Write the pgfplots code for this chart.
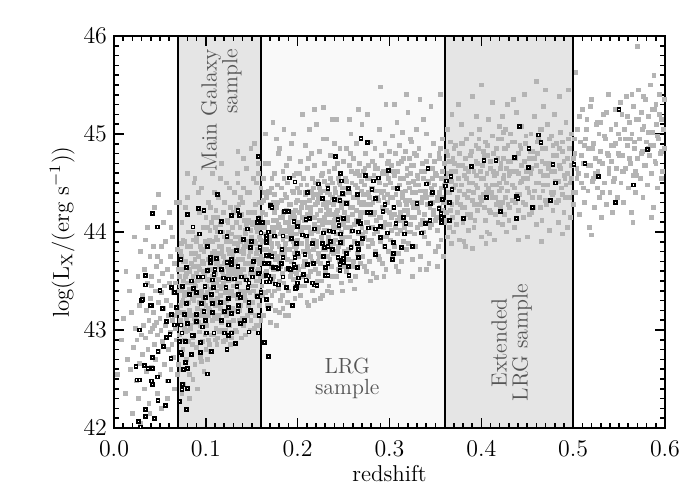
\documentclass[border=0pt]{standalone}
\usepackage{pgfplots}
\pgfplotsset{compat=1.18}

\definecolor{bandgray}{RGB}{229,229,229}
\definecolor{lrgband}{RGB}{249,249,249}
\definecolor{ptgray}{RGB}{180,180,180}
\definecolor{textgray}{RGB}{85,85,85}

\begin{document}
\begin{tikzpicture}
\path[use as bounding box] (-57bp,-36bp) rectangle (293bp,214bp);
\begin{axis}[
    at={(0,0)}, anchor=south west,
    scale only axis, width=275.5bp, height=196bp,
    xmin=0, xmax=0.6, ymin=42, ymax=46,
    axis on top,
    axis line style={line width=1bp},
    tick style={line width=0.8bp, black},
    tick align=inside,
    major tick length=5bp, minor tick length=2.5bp,
    xtick={0,0.1,...,0.6}, ytick={42,43,44,45,46},
    minor x tick num=9, minor y tick num=9,
    xticklabel style={yshift=-3bp, /pgf/number format/.cd, fixed, fixed zerofill, precision=1},
    tick label style={font=\fontsize{12}{14}\selectfont},
    label style={font=\fontsize{11.5}{14}\selectfont},
    xlabel={redshift},
    ylabel={log(L$_{\mathrm{X}}$/(erg s$^{-1}$))},
    xlabel style={at={(axis description cs:0.5,-0.115)}, anchor=center},
    ylabel style={at={(axis description cs:-0.094,0.5)}, anchor=center},
  ]
  % sample bands
  \fill[bandgray] (axis cs:0.07,42) rectangle (axis cs:0.16,46);
  \fill[lrgband] (axis cs:0.16,42) rectangle (axis cs:0.36,46);
  \fill[bandgray] (axis cs:0.36,42) rectangle (axis cs:0.5,46);

  % all sources
  \addplot[only marks, mark=square*, mark size=0.95bp, color=ptgray, mark options={draw=none}] coordinates {
  (0.004,42.55) (0.008,42.90) (0.010,43.12) (0.012,42.35) (0.015,42.70) (0.017,43.40) (0.019,43.18) (0.020,42.15) (0.021,42.82) (0.023,43.02) (0.024,42.48) (0.025,42.90) (0.026,43.55) (0.027,42.30) (0.028,42.66) (0.028,43.25) (0.029,42.05) (0.029,43.80) (0.030,42.95) (0.018,42.60) (0.013,43.60) (0.022,43.95)
  (0.031,43.35) (0.031,42.75) (0.032,43.05) (0.033,42.40) (0.033,43.62) (0.034,42.92) (0.035,43.20) (0.035,42.58) (0.036,44.05) (0.036,43.48) (0.037,42.80) (0.038,43.10) (0.038,42.25) (0.039,43.75) (0.040,42.98) (0.040,43.32) (0.041,42.62) (0.041,43.55) (0.042,43.02) (0.042,42.45) (0.043,43.85) (0.043,43.18) (0.044,42.85) (0.044,44.25) (0.045,43.40) (0.045,42.70) (0.046,43.08) (0.046,43.65) (0.047,42.35) (0.047,42.95) (0.048,43.28) (0.048,44.38) (0.049,43.50) (0.049,42.78) (0.050,43.12) (0.050,42.55) (0.051,43.70) (0.051,43.00) (0.052,43.38) (0.052,42.20) (0.053,42.88) (0.053,43.58) (0.054,43.22) (0.054,44.10) (0.055,42.65) (0.055,43.45) (0.056,43.05) (0.056,43.90) (0.057,42.92) (0.057,43.30) (0.058,42.48) (0.058,43.62) (0.059,43.15) (0.059,42.80) (0.060,43.48) (0.060,44.20) (0.061,42.98) (0.061,43.75) (0.062,42.60) (0.062,43.25) (0.063,43.55) (0.063,42.85) (0.064,43.10) (0.064,43.95) (0.065,42.72) (0.065,43.38) (0.066,43.68) (0.066,42.40) (0.067,43.02) (0.067,43.48) (0.068,44.30) (0.068,42.90) (0.069,43.20) (0.069,43.82) (0.070,42.65) (0.070,43.40) (0.034,43.92) (0.039,42.15) (0.044,43.05) (0.052,43.85) (0.058,42.30) (0.062,44.05) (0.066,43.15) (0.069,42.55) (0.041,43.45) (0.047,43.75)
  (0.071,43.55) (0.071,42.95) (0.072,43.25) (0.072,43.80) (0.073,42.60) (0.073,43.40) (0.074,43.05) (0.074,44.10) (0.075,42.80) (0.075,43.62) (0.076,43.18) (0.076,42.45) (0.077,43.90) (0.077,43.35) (0.078,42.98) (0.078,43.70) (0.079,43.12) (0.079,42.70) (0.080,43.48) (0.080,44.35) (0.081,42.88) (0.081,43.28) (0.082,43.60) (0.082,42.55) (0.083,43.02) (0.083,43.85) (0.084,43.40) (0.084,42.75) (0.085,44.00) (0.085,43.15) (0.086,42.92) (0.086,43.55) (0.087,43.30) (0.087,44.50) (0.088,42.65) (0.088,43.72) (0.089,43.08) (0.089,43.45) (0.090,42.82) (0.090,43.95) (0.091,43.22) (0.091,42.40) (0.092,43.65) (0.092,43.38) (0.093,42.98) (0.093,44.20) (0.094,43.52) (0.094,42.72) (0.095,43.15) (0.095,43.82) (0.096,43.35) (0.096,42.88) (0.097,44.05) (0.097,43.60) (0.098,43.05) (0.098,42.58) (0.099,43.45) (0.099,43.90) (0.100,43.25) (0.100,42.80) (0.072,43.10) (0.074,42.35) (0.076,43.50) (0.078,44.25) (0.080,43.00) (0.082,43.20) (0.084,43.68) (0.086,42.50) (0.088,43.35) (0.090,43.58) (0.092,44.40) (0.094,43.05) (0.096,43.70) (0.098,43.28) (0.100,44.15) (0.073,43.75) (0.075,43.30) (0.077,42.90) (0.079,43.58) (0.081,44.00) (0.083,43.48) (0.085,42.85) (0.087,43.12) (0.089,43.78) (0.091,43.50) (0.093,43.62) (0.095,42.68) (0.097,43.30) (0.099,42.95) (0.071,44.30) (0.080,44.60) (0.088,44.55) (0.095,44.45) (0.082,42.30) (0.090,43.10) (0.098,43.80) (0.075,43.92) (0.086,43.92) (0.093,43.28)
  (0.0705,43.62) (0.0715,43.18) (0.0725,43.45) (0.0735,43.88) (0.0745,43.28) (0.0755,43.70) (0.0765,43.02) (0.0775,43.55) (0.0785,43.38) (0.0795,43.85) (0.0805,43.15) (0.0815,43.62) (0.0825,43.42) (0.0835,43.05) (0.0845,43.78) (0.0855,43.32) (0.0865,43.65) (0.0875,43.48) (0.0885,43.12) (0.0895,43.90) (0.0905,43.35) (0.0915,43.75) (0.0925,43.08) (0.0935,43.52) (0.0945,43.85) (0.0955,43.40) (0.0965,43.20) (0.0975,43.68) (0.0985,43.55) (0.0995,43.15)
  (0.101,43.60) (0.101,43.05) (0.102,43.38) (0.102,44.05) (0.103,42.90) (0.103,43.72) (0.104,43.20) (0.104,43.50) (0.105,44.25) (0.105,42.78) (0.106,43.62) (0.106,43.30) (0.107,43.90) (0.107,43.10) (0.108,43.48) (0.108,42.95) (0.109,43.80) (0.109,44.40) (0.110,43.25) (0.110,43.58) (0.111,43.02) (0.111,43.95) (0.112,43.40) (0.112,42.85) (0.113,43.70) (0.113,44.15) (0.114,43.15) (0.114,43.52) (0.115,42.98) (0.115,43.85) (0.116,43.35) (0.116,44.55) (0.117,43.62) (0.117,43.08) (0.118,44.00) (0.118,43.45) (0.119,42.88) (0.119,43.75) (0.120,43.28) (0.120,44.30) (0.121,43.55) (0.121,43.00) (0.122,43.90) (0.122,43.40) (0.123,42.80) (0.123,43.65) (0.124,44.10) (0.124,43.18) (0.125,43.50) (0.125,43.82) (0.126,43.05) (0.126,44.45) (0.127,43.35) (0.127,43.70) (0.128,42.92) (0.128,43.98) (0.129,43.58) (0.129,43.22) (0.130,44.20) (0.130,43.45) (0.101,43.85) (0.102,42.70) (0.103,44.30) (0.104,43.92) (0.105,43.42) (0.106,42.95) (0.107,44.60) (0.108,43.75) (0.109,43.15) (0.110,44.05) (0.111,43.68) (0.112,43.12) (0.113,42.92) (0.114,44.35) (0.115,43.45) (0.116,43.00) (0.117,43.85) (0.118,43.28) (0.119,44.20) (0.120,43.68) (0.121,42.90) (0.122,44.50) (0.123,43.30) (0.124,43.60) (0.125,43.08) (0.126,43.78) (0.127,44.25) (0.128,43.40) (0.129,42.98) (0.130,43.80) (0.102,43.52) (0.104,42.85) (0.106,44.10) (0.108,43.30) (0.110,42.90) (0.112,44.00) (0.114,43.78) (0.116,43.22) (0.118,43.60) (0.120,43.00) (0.122,43.15) (0.124,43.95) (0.126,43.55) (0.128,43.62) (0.130,43.10) (0.105,43.68) (0.111,44.22) (0.117,44.70) (0.121,43.38) (0.127,42.85) (0.113,43.32) (0.119,43.48) (0.125,44.00) (0.103,43.15) (0.109,43.55)
  (0.131,43.70) (0.131,43.20) (0.132,43.95) (0.132,43.45) (0.133,42.98) (0.133,44.25) (0.134,43.60) (0.134,43.32) (0.135,43.85) (0.135,44.50) (0.136,43.10) (0.136,43.72) (0.137,43.48) (0.137,44.05) (0.138,43.25) (0.138,43.90) (0.139,42.92) (0.139,43.62) (0.140,44.30) (0.140,43.40) (0.141,43.78) (0.141,43.05) (0.142,44.12) (0.142,43.55) (0.143,43.30) (0.143,43.98) (0.144,44.65) (0.144,43.68) (0.145,43.15) (0.145,43.85) (0.146,43.50) (0.146,44.20) (0.147,42.98) (0.147,43.75) (0.148,43.38) (0.148,44.40) (0.149,43.62) (0.149,43.10) (0.150,43.92) (0.150,43.45) (0.151,44.08) (0.151,43.28) (0.152,43.70) (0.152,44.55) (0.153,43.02) (0.153,43.58) (0.154,43.88) (0.154,44.28) (0.155,43.35) (0.155,43.78) (0.156,43.15) (0.156,44.00) (0.157,43.50) (0.157,44.70) (0.158,43.68) (0.158,43.25) (0.159,44.15) (0.159,43.85) (0.160,43.40) (0.160,44.45) (0.131,44.40) (0.132,43.00) (0.133,43.55) (0.134,44.60) (0.135,43.35) (0.136,43.95) (0.137,43.20) (0.138,44.35) (0.139,43.80) (0.140,43.12) (0.141,44.45) (0.142,43.85) (0.143,42.95) (0.144,43.40) (0.145,44.40) (0.146,43.25) (0.147,44.10) (0.148,43.58) (0.149,44.02) (0.150,43.18) (0.151,43.65) (0.152,43.40) (0.153,44.20) (0.154,43.45) (0.155,44.50) (0.156,43.72) (0.157,43.05) (0.158,43.95) (0.159,43.55) (0.160,43.10) (0.132,43.68) (0.134,43.88) (0.136,44.28) (0.138,43.60) (0.140,43.72) (0.142,43.35) (0.144,44.08) (0.146,43.90) (0.148,43.00) (0.150,43.68) (0.152,44.10) (0.154,43.15) (0.156,43.60) (0.158,44.30) (0.160,43.75) (0.135,44.82) (0.141,44.75) (0.149,44.85) (0.153,44.90) (0.157,44.60) (0.137,43.40) (0.143,43.68) (0.147,43.50) (0.151,43.88) (0.155,43.05)
  (0.1005,43.45) (0.1015,43.88) (0.1025,43.22) (0.1035,43.62) (0.1045,44.02) (0.1055,43.35) (0.1065,43.78) (0.1075,43.55) (0.1085,44.15) (0.1095,43.30) (0.1105,43.72) (0.1115,43.48) (0.1125,43.92) (0.1135,43.25) (0.1145,43.65) (0.1155,44.08) (0.1165,43.42) (0.1175,43.80) (0.1185,43.58) (0.1195,43.18) (0.1205,43.95) (0.1215,43.70) (0.1225,43.50) (0.1235,44.12) (0.1245,43.38) (0.1255,43.68) (0.1265,43.90) (0.1275,43.52) (0.1285,44.05) (0.1295,43.75) (0.1305,43.35) (0.1315,43.88) (0.1325,43.62) (0.1335,44.10) (0.1345,43.48) (0.1355,43.72) (0.1365,43.95) (0.1375,43.58) (0.1385,44.18) (0.1395,43.40) (0.1405,43.82) (0.1415,43.62) (0.1425,44.02) (0.1435,43.52) (0.1445,43.90) (0.1455,43.68) (0.1465,44.12) (0.1475,43.45) (0.1485,43.80) (0.1495,43.95) (0.1505,43.58) (0.1515,44.20) (0.1525,43.72) (0.1535,43.90) (0.1545,43.50) (0.1555,44.05) (0.1565,43.82) (0.1575,43.62) (0.1585,44.10) (0.1595,43.92)
  (0.161,43.90) (0.161,43.45) (0.162,44.20) (0.162,43.70) (0.163,43.15) (0.163,44.55) (0.164,43.82) (0.164,44.05) (0.165,43.38) (0.165,43.98) (0.166,44.35) (0.166,43.60) (0.167,43.25) (0.167,44.10) (0.168,43.75) (0.168,44.70) (0.169,43.50) (0.169,43.92) (0.170,44.28) (0.170,43.08) (0.171,43.65) (0.171,44.45) (0.172,43.85) (0.172,43.35) (0.173,44.12) (0.173,45.12) (0.174,43.55) (0.174,44.00) (0.175,43.78) (0.175,44.60) (0.176,43.20) (0.176,43.95) (0.177,44.25) (0.177,43.62) (0.178,43.88) (0.178,44.48) (0.179,43.42) (0.179,44.08) (0.180,43.70) (0.180,44.85) (0.181,43.98) (0.181,43.30) (0.182,44.32) (0.182,43.80) (0.183,43.58) (0.183,44.15) (0.184,43.92) (0.184,44.62) (0.185,43.48) (0.185,44.02) (0.186,43.75) (0.186,44.38) (0.187,43.15) (0.187,43.88) (0.188,44.22) (0.188,43.62) (0.189,44.50) (0.189,43.95) (0.190,43.40) (0.190,44.10) (0.191,43.82) (0.191,44.75) (0.192,43.55) (0.192,44.28) (0.193,44.00) (0.193,43.70) (0.194,44.42) (0.194,43.25) (0.195,43.90) (0.195,44.18) (0.196,43.65) (0.196,44.58) (0.197,43.98) (0.197,43.45) (0.198,44.30) (0.198,43.80) (0.199,44.08) (0.199,43.58) (0.200,44.45) (0.200,43.92) (0.161,44.30) (0.163,43.55) (0.165,44.70) (0.167,43.90) (0.169,44.40) (0.171,43.95) (0.173,43.50) (0.175,44.20) (0.177,43.05) (0.179,44.80) (0.181,44.15) (0.183,43.35) (0.185,44.55) (0.187,44.00) (0.189,43.28) (0.191,44.05) (0.193,44.90) (0.195,43.52) (0.197,44.15) (0.199,43.85) (0.162,43.35) (0.164,44.40) (0.166,43.95) (0.168,43.40) (0.170,43.80) (0.172,44.55) (0.174,44.30) (0.176,43.72) (0.178,44.05) (0.180,43.50) (0.182,44.00) (0.184,43.22) (0.186,43.85) (0.188,44.68) (0.190,43.62) (0.192,43.98) (0.194,44.20) (0.196,43.78) (0.198,44.60) (0.200,43.65) (0.165,45.00) (0.177,44.95) (0.185,45.05) (0.195,45.00) (0.170,43.25) (0.180,43.18) (0.190,43.15) (0.175,43.40) (0.183,43.78) (0.197,43.32)
  (0.201,44.10) (0.201,43.62) (0.202,44.40) (0.202,43.88) (0.203,43.35) (0.203,44.72) (0.204,44.00) (0.204,44.25) (0.205,43.55) (0.205,44.15) (0.206,44.55) (0.206,43.80) (0.207,43.45) (0.207,44.30) (0.208,43.95) (0.208,44.88) (0.209,43.70) (0.209,44.12) (0.210,44.48) (0.210,43.28) (0.211,43.85) (0.211,44.65) (0.212,44.05) (0.212,43.55) (0.213,44.32) (0.213,45.05) (0.214,43.75) (0.214,44.20) (0.215,43.98) (0.215,44.80) (0.216,43.40) (0.216,44.15) (0.217,44.45) (0.217,43.82) (0.218,44.08) (0.218,44.68) (0.219,43.62) (0.219,44.28) (0.220,43.90) (0.220,45.10) (0.221,44.18) (0.221,43.50) (0.222,44.52) (0.222,44.00) (0.223,43.78) (0.223,44.35) (0.224,44.12) (0.224,44.82) (0.225,43.68) (0.225,44.22) (0.226,43.95) (0.226,44.58) (0.227,43.35) (0.227,44.08) (0.228,44.42) (0.228,43.82) (0.229,44.70) (0.229,44.15) (0.230,43.60) (0.230,44.30) (0.231,44.02) (0.231,44.95) (0.232,43.75) (0.232,44.48) (0.233,44.20) (0.233,43.90) (0.234,44.62) (0.234,43.45) (0.235,44.10) (0.235,44.38) (0.236,43.85) (0.236,44.78) (0.237,44.18) (0.237,43.65) (0.238,44.50) (0.238,44.00) (0.239,44.28) (0.239,43.78) (0.240,44.65) (0.240,44.12) (0.241,43.92) (0.241,44.40) (0.242,43.55) (0.242,45.15) (0.243,44.22) (0.243,43.80) (0.244,44.55) (0.244,44.05) (0.245,43.70) (0.245,44.35) (0.246,44.85) (0.246,44.15) (0.247,43.95) (0.247,44.60) (0.248,43.48) (0.248,44.25) (0.249,44.45) (0.249,43.88) (0.250,44.10) (0.250,44.72) (0.202,44.60) (0.204,43.45) (0.206,44.05) (0.208,44.40) (0.210,43.90) (0.212,44.75) (0.214,43.60) (0.216,44.55) (0.218,43.30) (0.220,44.38) (0.222,43.70) (0.224,44.45) (0.226,43.50) (0.228,44.95) (0.230,44.10) (0.232,43.40) (0.234,44.30) (0.236,44.00) (0.238,43.55) (0.240,44.90) (0.242,44.20) (0.244,43.62) (0.246,44.48) (0.248,44.00) (0.250,43.65) (0.203,44.05) (0.207,43.70) (0.211,44.25) (0.215,44.40) (0.219,44.02) (0.223,43.58) (0.227,44.60) (0.231,44.25) (0.235,43.72) (0.239,44.05) (0.243,44.70) (0.247,44.30) (0.205,45.20) (0.218,45.25) (0.228,45.27) (0.238,45.15) (0.212,43.25) (0.225,43.32) (0.237,43.38) (0.249,43.40)
  (0.1605,44.05) (0.1615,43.72) (0.1625,44.32) (0.1635,43.90) (0.1645,43.58) (0.1655,44.18) (0.1665,43.82) (0.1675,44.42) (0.1685,44.00) (0.1695,43.68) (0.1705,44.25) (0.1715,43.88) (0.1725,44.05) (0.1735,43.62) (0.1745,44.38) (0.1755,43.95) (0.1765,44.12) (0.1775,43.75) (0.1785,44.30) (0.1795,43.85) (0.1805,44.05) (0.1815,43.65) (0.1825,44.45) (0.1835,43.98) (0.1845,44.20) (0.1855,43.80) (0.1865,44.10) (0.1875,44.35) (0.1885,43.72) (0.1895,44.02) (0.1905,44.28) (0.1915,43.92) (0.1925,44.15) (0.1935,43.60) (0.1945,44.05) (0.1955,44.40) (0.1965,43.85) (0.1975,44.22) (0.1985,43.98) (0.1995,44.32) (0.2005,43.75) (0.2015,44.20) (0.2025,44.02) (0.2035,44.48) (0.2045,43.88) (0.2055,44.30) (0.2065,43.65) (0.2075,44.12) (0.2085,44.38) (0.2095,43.95) (0.2105,44.18) (0.2115,43.80) (0.2125,44.42) (0.2135,44.00) (0.2145,44.25) (0.2155,43.70) (0.2165,44.35) (0.2175,43.92) (0.2185,44.15) (0.2195,44.50) (0.2205,43.85) (0.2215,44.30) (0.2225,44.05) (0.2235,43.75) (0.2245,44.40) (0.2255,44.12) (0.2265,43.90) (0.2275,44.28) (0.2285,44.02) (0.2295,44.52) (0.2305,43.82) (0.2315,44.18) (0.2325,44.40) (0.2335,43.95) (0.2345,44.22) (0.2355,44.55) (0.2365,43.80) (0.2375,44.35) (0.2385,44.10) (0.2395,43.88) (0.2405,44.45) (0.2415,44.15) (0.2425,43.98) (0.2435,44.32) (0.2445,43.85) (0.2455,44.50) (0.2465,44.08) (0.2475,44.25) (0.2485,43.92) (0.2495,44.38)
  (0.251,44.20) (0.251,43.80) (0.252,44.55) (0.252,44.05) (0.253,43.60) (0.253,44.85) (0.254,44.30) (0.254,44.12) (0.255,43.72) (0.255,44.40) (0.256,44.68) (0.256,43.95) (0.257,43.50) (0.257,44.25) (0.258,44.00) (0.258,45.00) (0.259,43.85) (0.259,44.50) (0.260,44.18) (0.260,43.65) (0.261,44.75) (0.261,44.35) (0.262,43.90) (0.262,44.08) (0.263,44.60) (0.263,43.55) (0.264,44.22) (0.264,44.90) (0.265,43.78) (0.265,44.45) (0.266,44.10) (0.266,43.98) (0.267,44.70) (0.267,44.30) (0.268,43.68) (0.268,44.15) (0.269,44.52) (0.269,43.88) (0.270,44.05) (0.270,45.10) (0.271,44.38) (0.271,43.75) (0.272,44.62) (0.272,44.20) (0.273,43.95) (0.273,44.48) (0.274,44.00) (0.274,44.80) (0.275,43.60) (0.275,44.28) (0.276,44.55) (0.276,44.10) (0.277,43.85) (0.277,44.68) (0.278,44.35) (0.278,43.70) (0.279,44.92) (0.279,44.18) (0.280,43.92) (0.280,44.45) (0.281,44.05) (0.281,44.72) (0.282,43.58) (0.282,44.30) (0.283,44.58) (0.283,43.98) (0.284,44.20) (0.284,44.85) (0.285,43.80) (0.285,44.42) (0.286,43.54) (0.286,44.12) (0.287,44.65) (0.287,44.00) (0.288,44.32) (0.288,43.75) (0.289,44.50) (0.289,45.05) (0.290,44.15) (0.290,43.90) (0.291,44.40) (0.291,44.78) (0.292,43.68) (0.292,44.25) (0.293,44.05) (0.293,44.62) (0.294,43.85) (0.294,44.35) (0.295,44.90) (0.295,44.10) (0.296,43.62) (0.296,44.48) (0.297,44.22) (0.297,43.95) (0.298,44.70) (0.298,44.30) (0.299,43.80) (0.299,44.55) (0.300,44.08) (0.300,44.82) (0.253,44.45) (0.257,44.80) (0.261,43.70) (0.265,44.62) (0.269,44.28) (0.273,43.65) (0.277,44.40) (0.281,43.88) (0.285,44.65) (0.289,43.72) (0.293,44.42) (0.297,44.60) (0.256,45.15) (0.266,45.25) (0.276,45.20) (0.290,45.48) (0.296,45.30) (0.262,43.42) (0.279,43.50) (0.294,43.55)
  (0.301,44.35) (0.301,43.92) (0.302,44.68) (0.302,44.15) (0.303,43.75) (0.303,44.98) (0.304,44.45) (0.304,44.25) (0.305,43.85) (0.305,44.58) (0.306,44.80) (0.306,44.05) (0.307,43.65) (0.307,44.38) (0.308,44.12) (0.308,45.12) (0.309,43.98) (0.309,44.62) (0.310,44.30) (0.310,43.78) (0.311,44.88) (0.311,44.48) (0.312,44.02) (0.312,44.20) (0.313,44.72) (0.313,43.70) (0.314,44.35) (0.314,45.02) (0.315,43.90) (0.315,44.55) (0.316,44.22) (0.316,44.10) (0.317,44.82) (0.317,44.42) (0.318,43.82) (0.318,44.28) (0.319,44.65) (0.319,44.00) (0.320,44.18) (0.320,45.22) (0.321,44.50) (0.321,43.88) (0.322,44.75) (0.322,44.32) (0.323,44.08) (0.323,44.60) (0.324,44.15) (0.324,44.92) (0.325,43.72) (0.325,44.40) (0.326,44.68) (0.326,44.25) (0.327,43.98) (0.327,44.80) (0.328,44.48) (0.328,43.85) (0.329,45.05) (0.329,44.30) (0.330,44.05) (0.330,44.58) (0.332,44.20) (0.332,44.85) (0.334,43.75) (0.334,44.42) (0.336,44.70) (0.336,44.12) (0.338,43.95) (0.338,44.62) (0.340,44.35) (0.340,45.00) (0.342,43.88) (0.342,44.52) (0.344,44.25) (0.344,44.78) (0.346,44.08) (0.346,44.45) (0.348,44.90) (0.348,44.18) (0.350,43.80) (0.350,44.60) (0.352,44.32) (0.352,44.02) (0.354,44.75) (0.354,44.40) (0.356,43.92) (0.356,44.55) (0.358,44.22) (0.358,44.95) (0.360,44.10) (0.360,44.48) (0.331,44.55) (0.333,43.62) (0.335,44.30) (0.337,45.15) (0.339,44.40) (0.341,44.10) (0.343,43.68) (0.345,44.65) (0.347,44.30) (0.349,44.72) (0.351,44.15) (0.353,43.85) (0.355,44.85) (0.357,44.35) (0.359,43.75) (0.305,45.30) (0.318,45.40) (0.333,45.35) (0.345,45.28) (0.355,45.40) (0.310,43.60) (0.325,43.55) (0.340,43.62) (0.352,43.65) (0.337,44.00) (0.347,44.55) (0.357,44.15) (0.323,44.95) (0.311,44.15)
  (0.2505,44.30) (0.2517,43.95) (0.2529,44.52) (0.2541,44.15) (0.2553,43.82) (0.2565,44.40) (0.2577,44.05) (0.2589,44.62) (0.2601,44.25) (0.2613,43.90) (0.2625,44.48) (0.2637,44.12) (0.2649,44.35) (0.2661,43.85) (0.2673,44.58) (0.2685,44.20) (0.2697,44.42) (0.2709,43.98) (0.2721,44.30) (0.2733,44.65) (0.2745,44.10) (0.2757,44.38) (0.2769,43.92) (0.2781,44.55) (0.2793,44.28) (0.2805,44.05) (0.2817,44.45) (0.2829,44.18) (0.2841,44.68) (0.2853,44.00) (0.2865,44.35) (0.2877,44.55) (0.2889,44.15) (0.2901,44.42) (0.2913,43.95) (0.2925,44.60) (0.2937,44.25) (0.2949,44.48) (0.2961,44.08) (0.2973,44.38) (0.2985,44.72) (0.2997,44.20) (0.3009,44.50) (0.3021,44.02) (0.3033,44.35) (0.3045,44.62) (0.3057,44.18) (0.3069,44.45) (0.3081,43.98) (0.3093,44.70) (0.3105,44.28) (0.3117,44.55) (0.3129,44.12) (0.3141,44.40) (0.3153,44.75) (0.3165,44.05) (0.3177,44.32) (0.3189,44.58) (0.3201,44.22) (0.3213,44.45) (0.3225,44.00) (0.3237,44.68) (0.3249,44.30) (0.3261,44.52) (0.3273,44.15) (0.3285,44.40) (0.3297,44.78) (0.3309,44.25) (0.3321,44.48) (0.3333,44.08) (0.3345,44.62) (0.3357,44.35) (0.3369,44.55) (0.3381,44.18) (0.3393,44.42) (0.3405,44.72) (0.3417,44.28) (0.3429,44.50) (0.3441,44.05) (0.3453,44.38) (0.3465,44.65) (0.3477,44.22) (0.3489,44.48) (0.3501,44.12) (0.3513,44.58) (0.3525,44.35) (0.3537,44.80) (0.3549,44.25) (0.3561,44.45) (0.3573,44.62) (0.3585,44.30) (0.3597,44.70)
  (0.361,44.50) (0.361,44.12) (0.362,44.82) (0.362,44.30) (0.363,43.95) (0.363,45.05) (0.364,44.60) (0.364,44.40) (0.365,44.05) (0.365,44.72) (0.366,44.92) (0.366,44.22) (0.367,43.88) (0.367,44.52) (0.368,44.28) (0.368,45.20) (0.369,44.15) (0.369,44.75) (0.370,44.45) (0.370,44.00) (0.372,44.88) (0.372,44.62) (0.374,44.20) (0.374,44.35) (0.376,44.80) (0.376,43.92) (0.378,44.48) (0.378,45.10) (0.380,44.10) (0.380,44.68) (0.382,44.38) (0.382,44.25) (0.384,44.95) (0.384,44.55) (0.386,44.02) (0.386,44.42) (0.388,44.78) (0.388,44.15) (0.390,44.32) (0.390,43.83) (0.392,44.62) (0.392,44.05) (0.394,44.88) (0.394,44.48) (0.396,44.22) (0.396,44.70) (0.398,44.28) (0.398,45.05) (0.400,43.95) (0.400,44.55) (0.402,44.82) (0.402,44.38) (0.404,44.12) (0.404,44.92) (0.406,44.60) (0.406,44.00) (0.408,45.15) (0.408,44.45) (0.410,44.20) (0.410,44.72) (0.412,44.35) (0.412,44.98) (0.414,43.92) (0.414,44.58) (0.416,44.85) (0.416,44.28) (0.418,44.10) (0.418,44.75) (0.420,44.50) (0.420,45.08) (0.371,44.70) (0.373,44.08) (0.375,44.55) (0.377,44.28) (0.379,44.90) (0.381,43.90) (0.383,44.65) (0.385,44.18) (0.387,44.50) (0.389,45.00) (0.391,44.40) (0.393,44.12) (0.395,44.58) (0.397,44.85) (0.399,44.35) (0.401,44.68) (0.403,44.25) (0.405,44.48) (0.407,44.78) (0.409,43.98) (0.411,44.40) (0.413,44.62) (0.415,44.18) (0.417,44.48) (0.419,44.30) (0.375,45.30) (0.390,45.38) (0.400,45.50) (0.412,45.32) (0.383,43.85) (0.405,43.88) (0.395,45.18)
  (0.421,44.65) (0.421,44.25) (0.422,44.95) (0.422,44.45) (0.423,44.08) (0.423,45.18) (0.424,44.75) (0.424,44.55) (0.425,44.18) (0.425,44.85) (0.426,45.05) (0.426,44.35) (0.427,44.00) (0.427,44.65) (0.428,44.42) (0.428,45.30) (0.429,44.28) (0.429,44.88) (0.430,44.58) (0.430,44.12) (0.432,45.00) (0.432,44.72) (0.434,44.32) (0.434,44.48) (0.436,44.92) (0.436,44.05) (0.438,44.62) (0.438,45.22) (0.440,44.22) (0.440,44.80) (0.442,44.50) (0.442,44.38) (0.444,45.08) (0.444,44.68) (0.446,44.15) (0.446,44.55) (0.448,44.90) (0.448,44.28) (0.450,44.45) (0.450,43.95) (0.452,44.75) (0.452,44.18) (0.454,45.00) (0.454,44.60) (0.456,44.35) (0.456,44.82) (0.458,44.42) (0.458,45.18) (0.460,44.08) (0.460,44.68) (0.462,44.95) (0.462,44.50) (0.464,44.25) (0.464,45.05) (0.466,44.72) (0.466,44.12) (0.468,45.28) (0.468,44.58) (0.470,44.32) (0.470,44.85) (0.472,44.48) (0.472,45.10) (0.474,44.02) (0.474,44.70) (0.476,44.98) (0.476,44.40) (0.478,44.22) (0.478,44.88) (0.480,44.62) (0.480,45.20) (0.482,44.30) (0.482,44.78) (0.484,44.52) (0.484,44.10) (0.486,45.02) (0.486,44.65) (0.488,44.38) (0.488,44.92) (0.490,44.20) (0.490,44.72) (0.492,44.48) (0.492,45.12) (0.494,44.05) (0.494,44.60) (0.496,44.85) (0.496,44.35) (0.498,44.55) (0.498,45.00) (0.500,44.28) (0.500,44.75) (0.431,44.60) (0.437,44.30) (0.443,44.85) (0.449,44.62) (0.455,44.20) (0.461,44.80) (0.467,44.42) (0.473,44.65) (0.479,44.40) (0.485,44.85) (0.491,44.55) (0.497,44.15) (0.435,45.35) (0.447,45.40) (0.460,45.54) (0.470,45.45) (0.485,45.38) (0.495,45.45) (0.440,43.92) (0.465,43.90) (0.488,43.98)
  (0.3605,44.55) (0.3621,44.20) (0.3637,44.78) (0.3653,44.40) (0.3669,44.62) (0.3685,44.15) (0.3701,44.85) (0.3717,44.48) (0.3733,44.30) (0.3749,44.68) (0.3765,44.42) (0.3781,44.90) (0.3797,44.25) (0.3813,44.58) (0.3829,44.75) (0.3845,44.35) (0.3861,44.62) (0.3877,44.18) (0.3893,44.82) (0.3909,44.50) (0.3925,44.28) (0.3941,44.72) (0.3957,44.45) (0.3973,44.95) (0.3989,44.62) (0.4005,44.32) (0.4021,44.55) (0.4037,44.78) (0.4053,44.40) (0.4069,44.88) (0.4085,44.22) (0.4101,44.65) (0.4117,44.48) (0.4133,44.80) (0.4149,44.35) (0.4165,44.60) (0.4181,44.95) (0.4197,44.42) (0.4213,44.70) (0.4229,44.30) (0.4245,44.58) (0.4261,44.85) (0.4277,44.50) (0.4293,44.72) (0.4309,44.25) (0.4325,44.62) (0.4341,44.92) (0.4357,44.45) (0.4373,44.75) (0.4389,44.38) (0.4405,44.60) (0.4421,44.88) (0.4437,44.52) (0.4453,44.30) (0.4469,44.72) (0.4485,44.98) (0.4501,44.55) (0.4517,44.40) (0.4533,44.82) (0.4549,44.65) (0.4565,44.25) (0.4581,44.75) (0.4597,44.50) (0.4613,44.92) (0.4629,44.35) (0.4645,44.62) (0.4661,44.85) (0.4677,44.48) (0.4693,44.70) (0.4709,44.28) (0.4725,44.58) (0.4741,44.95) (0.4757,44.62) (0.4773,44.38) (0.4789,44.78) (0.4805,44.52) (0.4821,44.90) (0.4837,44.32) (0.4853,44.68) (0.4869,44.45) (0.4885,44.82) (0.4901,44.58) (0.4917,44.35) (0.4933,44.75) (0.4949,44.95) (0.4965,44.50) (0.4981,44.68) (0.4997,44.40) (0.4653,45.05) (0.4237,45.02)
  (0.502,44.80) (0.503,44.40) (0.503,45.63) (0.505,45.05) (0.506,44.60) (0.507,44.18) (0.508,44.92) (0.509,44.50) (0.510,45.25) (0.511,44.70) (0.512,44.30) (0.513,44.95) (0.514,44.58) (0.515,45.15) (0.516,44.42) (0.517,44.85) (0.518,44.05) (0.519,44.68) (0.520,45.35) (0.520,43.97) (0.521,44.52) (0.522,44.90) (0.523,44.25) (0.524,44.75) (0.525,45.10) (0.526,44.45) (0.527,44.62) (0.528,45.00) (0.529,44.35) (0.530,44.82) (0.531,44.15) (0.532,44.70) (0.533,45.20) (0.534,44.50) (0.535,44.95) (0.536,44.28) (0.537,44.80) (0.538,45.40) (0.539,44.60) (0.540,44.40) (0.541,45.05) (0.542,44.72) (0.543,44.20) (0.544,44.88) (0.545,44.55) (0.546,45.25) (0.547,44.65) (0.548,44.35) (0.549,45.00) (0.550,44.78) (0.504,44.65) (0.512,44.88) (0.522,44.55) (0.530,45.12) (0.538,44.78) (0.546,44.90)
  (0.551,44.95) (0.552,44.50) (0.553,45.20) (0.554,44.78) (0.555,44.30) (0.556,45.05) (0.557,44.65) (0.558,45.38) (0.559,44.88) (0.560,44.45) (0.561,45.12) (0.562,44.70) (0.563,44.20) (0.564,45.00) (0.565,44.58) (0.566,45.28) (0.567,44.85) (0.568,44.40) (0.569,45.15) (0.570,44.75) (0.570,45.89) (0.571,45.45) (0.572,44.95) (0.573,44.55) (0.574,45.22) (0.575,44.82) (0.576,44.35) (0.577,45.08) (0.578,44.68) (0.579,45.35) (0.580,44.92) (0.581,44.48) (0.582,45.18) (0.583,44.78) (0.584,45.50) (0.585,44.60) (0.586,45.02) (0.587,44.25) (0.588,45.60) (0.588,44.88) (0.589,45.25) (0.590,44.70) (0.591,45.10) (0.592,44.45) (0.593,44.95) (0.594,45.40) (0.595,44.80) (0.596,45.15) (0.597,44.62) (0.598,45.05) (0.599,44.85) (0.555,44.62) (0.562,44.95) (0.568,44.62) (0.575,45.05) (0.582,44.85) (0.590,45.30) (0.596,44.55) (0.565,44.10) (0.585,44.15)
  (0.5015,44.95) (0.5040,44.55) (0.5065,45.18) (0.5090,44.78) (0.5115,44.45) (0.5140,45.05) (0.5165,44.68) (0.5190,45.28) (0.5215,44.85) (0.5240,44.60) (0.5265,45.12) (0.5290,44.72) (0.5315,44.40) (0.5340,44.98) (0.5365,45.22) (0.5390,44.65) (0.5415,44.88) (0.5440,44.52) (0.5465,45.10) (0.5490,44.80) (0.5515,45.32) (0.5540,44.62) (0.5565,44.95) (0.5590,45.18) (0.5615,44.75) (0.5640,45.40) (0.5665,44.92) (0.5690,44.58) (0.5715,45.15) (0.5740,44.80) (0.5765,45.38) (0.5790,44.68) (0.5815,45.02) (0.5840,44.88) (0.5865,45.25) (0.5890,44.72) (0.5915,44.98) (0.5940,45.20) (0.5965,44.82) (0.5990,45.35)
  };

  % optically selected subsample
  \addplot[only marks, mark=square*, mark size=0.75bp, mark options={draw=black, fill=white, line width=0.9bp}] coordinates {
  (0.028,43.00) (0.024,42.63) (0.033,42.64) (0.025,42.49) (0.028,42.49) (0.037,42.61) (0.042,42.61) (0.042,42.72) (0.048,42.78) (0.054,42.83) (0.041,42.48) (0.042,42.44) (0.047,42.52) (0.059,42.48) (0.048,42.28) (0.056,42.23) (0.034,42.19) (0.034,42.12) (0.044,42.10) (0.027,42.07) (0.029,42.01) (0.062,42.71) (0.057,42.92) (0.057,43.09) (0.063,43.16) (0.041,43.25) (0.053,43.22) (0.030,43.30) (0.042,44.19) (0.047,44.05) (0.034,43.56) (0.034,43.46) (0.031,43.31) (0.040,43.25) (0.063,43.43) (0.066,43.38) (0.068,43.23) (0.066,43.05) (0.061,42.95) (0.050,43.40)
  (0.073,43.05) (0.074,42.97) (0.071,42.88) (0.074,42.75) (0.078,42.67) (0.076,42.60) (0.080,42.61) (0.075,42.44) (0.074,42.39) (0.080,42.40) (0.071,42.27) (0.079,42.19) (0.073,42.77) (0.084,42.75) (0.094,42.77) (0.102,42.55) (0.106,42.78) (0.123,42.80) (0.132,42.86) (0.094,42.87) (0.087,42.94) (0.078,42.88) (0.085,42.94) (0.080,43.07) (0.096,43.03) (0.101,42.97) (0.109,42.97) (0.120,42.97) (0.125,42.94) (0.128,42.97) (0.147,42.98) (0.157,42.97) (0.090,43.09) (0.100,43.10) (0.117,43.10) (0.125,43.05) (0.138,43.07) (0.142,43.10) (0.077,43.16) (0.090,43.16) (0.098,43.19) (0.107,43.18) (0.120,43.19) (0.128,43.17) (0.135,43.19) (0.149,43.20) (0.158,43.15) (0.079,43.27) (0.095,43.27) (0.107,43.27) (0.116,43.28) (0.125,43.23) (0.136,43.25) (0.147,43.28)
  (0.113,44.38) (0.092,44.24) (0.080,44.18) (0.135,44.22) (0.128,44.17) (0.137,44.17) (0.117,44.11) (0.157,44.14) (0.156,44.10) (0.116,44.00) (0.123,43.95) (0.145,44.03) (0.150,43.90) (0.149,43.84) (0.102,43.85) (0.133,43.81) (0.073,43.72) (0.105,43.74) (0.105,43.69) (0.112,43.73) (0.128,43.72) (0.123,43.69) (0.128,43.67) (0.135,43.65) (0.079,43.64) (0.110,43.62) (0.117,43.62) (0.102,43.61) (0.150,43.62) (0.084,43.50) (0.092,43.54) (0.097,43.54) (0.107,43.51) (0.109,43.57) (0.119,43.53) (0.125,43.52) (0.131,43.52) (0.139,43.54) (0.144,43.51) (0.147,43.48) (0.151,43.54) (0.157,43.58) (0.075,43.44) (0.087,43.42) (0.099,43.44) (0.108,43.43) (0.122,43.43) (0.134,43.44) (0.146,43.43) (0.082,43.36) (0.090,43.38) (0.100,43.33) (0.106,43.36) (0.125,43.32) (0.136,43.36) (0.138,43.33) (0.156,43.34) (0.160,43.38) (0.160,43.99) (0.159,43.84) (0.157,44.77) (0.098,44.22) (0.152,43.70) (0.141,43.92) (0.093,43.98) (0.086,44.05)
  (0.168,42.73) (0.164,42.87) (0.168,43.22) (0.168,44.00) (0.171,44.27) (0.168,43.76) (0.168,43.68) (0.166,43.56) (0.169,43.49) (0.269,44.95) (0.276,44.91) (0.241,44.77) (0.342,44.65) (0.299,44.63) (0.247,44.60) (0.274,44.58) (0.248,44.52) (0.288,44.55) (0.283,44.52) (0.191,44.55) (0.197,44.51) (0.223,44.49) (0.340,44.49) (0.255,44.44) (0.233,44.44) (0.309,44.44) (0.211,44.40) (0.249,44.39) (0.347,44.40) (0.265,44.38) (0.281,44.43) (0.227,44.34) (0.240,44.33) (0.246,44.32) (0.253,44.29) (0.285,44.34) (0.358,44.33) (0.330,44.29) (0.345,44.29) (0.295,44.28) (0.305,44.25) (0.354,44.24) (0.170,44.27) (0.172,44.25) (0.186,44.21) (0.190,44.21) (0.293,44.21) (0.276,44.20) (0.279,44.20) (0.356,44.19) (0.315,44.15)
  (0.196,44.11) (0.209,44.13) (0.213,44.14) (0.244,44.13) (0.250,44.14) (0.266,44.11) (0.268,44.09) (0.307,44.09) (0.318,44.09) (0.339,44.09) (0.344,44.12) (0.357,44.10) (0.162,44.10) (0.200,44.06) (0.218,44.03) (0.235,44.01) (0.239,44.00) (0.245,44.07) (0.266,44.00) (0.277,44.04) (0.290,44.06) (0.285,44.03) (0.260,44.01) (0.166,43.96) (0.166,43.93) (0.175,43.96) (0.184,43.96) (0.205,43.97) (0.210,43.96) (0.228,43.99) (0.247,43.98) (0.298,43.99) (0.316,43.98) (0.335,43.99) (0.290,43.94) (0.193,43.93) (0.271,43.93) (0.166,43.89) (0.199,43.88) (0.216,43.88) (0.227,43.88) (0.236,43.90) (0.247,43.89) (0.258,43.84) (0.265,43.88) (0.295,43.85) (0.304,43.89) (0.313,43.84) (0.325,43.85) (0.183,43.82) (0.200,43.78) (0.208,43.77) (0.229,43.84) (0.233,43.85) (0.238,43.82) (0.266,43.82) (0.304,43.78) (0.166,43.76) (0.172,43.75) (0.184,43.74) (0.197,43.74) (0.228,43.75) (0.253,43.78) (0.285,43.77) (0.303,43.72) (0.244,43.74) (0.248,43.71) (0.266,43.74)
  (0.174,43.64) (0.176,43.64) (0.179,43.63) (0.190,43.63) (0.196,43.67) (0.198,43.64) (0.211,43.67) (0.217,43.68) (0.230,43.64) (0.233,43.68) (0.246,43.67) (0.250,43.69) (0.265,43.64) (0.168,43.55) (0.170,43.52) (0.184,43.54) (0.206,43.57) (0.230,43.56) (0.256,43.56) (0.201,43.53) (0.210,43.50) (0.166,43.49) (0.176,43.47) (0.179,43.46) (0.200,43.48) (0.218,43.46) (0.221,43.45) (0.188,43.43) (0.199,43.43) (0.182,43.68) (0.194,43.25) (0.164,43.68) (0.198,43.42) (0.209,43.51) (0.216,43.48) (0.233,43.56) (0.246,43.61) (0.250,43.73) (0.255,43.65) (0.166,43.31) (0.190,43.63) (0.192,43.62)
  (0.357,44.15) (0.362,44.52) (0.361,44.47) (0.367,44.57) (0.365,44.30) (0.368,44.43) (0.365,44.12) (0.381,44.14) (0.389,44.67) (0.403,44.73) (0.416,44.73) (0.406,44.35) (0.421,44.21) (0.436,44.76) (0.442,45.08) (0.451,44.66) (0.452,44.85) (0.462,44.99) (0.465,44.91) (0.438,44.36) (0.440,44.34) (0.438,44.14) (0.456,44.25) (0.478,44.69) (0.481,44.50) (0.475,44.32) (0.501,44.69) (0.513,44.70) (0.528,44.57) (0.546,44.30) (0.550,45.25) (0.566,44.48) (0.581,44.84)
  };

  % sample boundaries
  \draw[line width=1bp] (axis cs:0.07,42) -- (axis cs:0.07,46);
  \draw[line width=1bp] (axis cs:0.16,42) -- (axis cs:0.16,46);
  \draw[line width=1bp] (axis cs:0.36,42) -- (axis cs:0.36,46);
  \draw[line width=1bp] (axis cs:0.5,42) -- (axis cs:0.5,46);

  \node[rotate=90, anchor=east, align=right, inner sep=0, text=textgray, font=\fontsize{11}{10.5}\selectfont]
    at (axis cs:0.117,45.87) {Main Galaxy\\sample};
  \node[align=center, inner sep=0, text=textgray, font=\fontsize{11}{10.5}\selectfont]
    at (axis cs:0.254,42.51) {LRG\\sample};
  \node[rotate=90, align=center, inner sep=0, text=textgray, font=\fontsize{11}{10.5}\selectfont]
    at (axis cs:0.433,42.87) {Extended\\LRG sample};
\end{axis}
\end{tikzpicture}
\end{document}
